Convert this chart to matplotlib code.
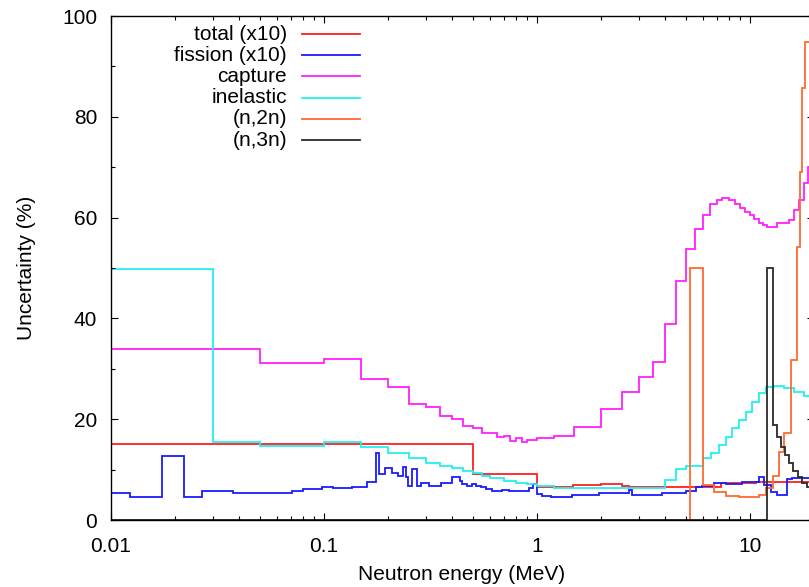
import matplotlib
matplotlib.use("Agg")
import matplotlib.pyplot as plt
from matplotlib.ticker import FixedLocator, MultipleLocator, FuncFormatter, NullFormatter
from matplotlib.lines import Line2D

plt.rcParams['font.family'] = ['Liberation Sans', 'DejaVu Sans']

# ---- group-wise relative uncertainties (%) vs neutron energy (MeV) ----
total_edges = [0.01, 0.5, 1.0, 1.47, 2.0, 2.5, 2.7, 7.3, 10.7, 20.0]
total_vals = [15.0, 9.2, 6.5, 6.9, 7.1, 6.7, 6.5, 7.3, 7.6]

fission_edges = [0.01, 0.0123, 0.0173, 0.022, 0.0267, 0.0373, 0.05, 0.0706, 0.0794,
                 0.0975, 0.11, 0.135, 0.159, 0.175, 0.182, 0.193, 0.208, 0.222, 0.236,
                 0.242, 0.247, 0.26, 0.272, 0.287, 0.313, 0.356, 0.401, 0.433, 0.447,
                 0.472, 0.498, 0.52, 0.549, 0.579, 0.618, 0.688, 0.742, 0.92, 0.96, 1.0,
                 1.06, 1.168, 1.466, 1.961, 2.712, 2.801, 3.872, 5.016, 5.588, 5.963,
                 6.788, 7.726, 9.184, 11.03, 11.65, 12.56, 13.4, 14.93, 15.76, 20.0]
fission_vals = [5.3, 4.6, 12.6, 4.6, 5.8, 5.3, 5.4, 5.8, 6.1, 6.5, 6.3, 6.6, 7.5, 13.3,
                9.2, 10.3, 9.3, 8.7, 10.5, 8.5, 6.7, 10.1, 6.7, 7.3, 6.7, 7.3, 8.5, 7.7,
                7.1, 6.7, 7.1, 6.7, 6.5, 6.2, 5.8, 6.0, 5.8, 6.3, 7.1, 5.2, 4.8, 4.6, 5.0,
                5.4, 6.0, 5.0, 5.4, 5.8, 6.5, 6.7, 7.3, 7.1, 7.5, 8.5, 6.9, 5.6, 5.0, 8.1,
                8.3]

capture_edges = [0.01, 0.05, 0.1, 0.15, 0.2, 0.25, 0.3, 0.35, 0.4, 0.45, 0.5, 0.55, 0.65,
                 0.7, 0.75, 0.8, 0.85, 0.9, 1.0, 1.2, 1.5, 2.0, 2.5, 3.0, 3.5, 4.0, 4.5,
                 5.0, 5.5, 6.0, 6.5, 7.0, 7.4, 8.0, 8.5, 9.0, 9.5, 10.0, 10.5, 11.0, 11.5,
                 12.0, 13.4, 15.25, 16.1, 17.0, 17.9, 18.7, 20.0]
capture_vals = [33.9, 31.2, 32.0, 28.0, 26.4, 23.0, 22.4, 20.6, 20.0, 18.7, 18.3, 17.3,
                16.5, 16.7, 15.7, 16.3, 15.5, 15.9, 16.3, 16.7, 18.5, 22.0, 25.4, 28.4,
                31.3, 38.9, 47.4, 53.8, 57.7, 60.5, 62.7, 63.4, 63.9, 63.5, 62.7, 61.9,
                61.2, 60.5, 59.7, 59.0, 58.5, 58.1, 59.0, 59.5, 61.5, 63.5, 66.9, 70.0]

inelastic_edges = [0.01, 0.03, 0.05, 0.1, 0.15, 0.2, 0.25, 0.3, 0.35, 0.4, 0.45, 0.5, 0.55,
                   0.6, 0.7, 0.8, 0.9, 1.0, 1.2, 4.0, 4.5, 5.0, 6.0, 6.6, 7.16, 7.73, 8.24,
                   8.89, 9.59, 10.23, 11.03, 11.89, 12.97, 14.45, 16.1, 17.9, 20.0]
inelastic_vals = [49.8, 15.5, 14.7, 15.5, 14.4, 13.3, 12.3, 11.3, 10.7, 10.3, 9.7, 9.3,
                  8.7, 8.3, 7.7, 7.3, 7.1, 6.7, 6.3, 7.9, 10.1, 10.8, 12.4, 13.3, 14.9,
                  16.5, 18.3, 19.8, 21.4, 23.4, 25.2, 26.4, 26.6, 26.2, 25.4, 24.6]

n2n_edges = [0.01, 5.24, 6.0, 6.8, 7.7, 8.9, 11.0, 11.9, 12.9, 13.7, 14.45, 15.6, 16.6,
             17.2, 17.5, 18.1, 20.0]
n2n_vals = [0.0, 50.0, 6.9, 5.6, 4.8, 4.5, 4.9, 6.3, 8.8, 13.5, 17.3, 31.7, 54.2, 69.0,
            85.7, 94.8]

n3n_edges = [0.01, 12.03, 12.83, 13.4, 14.0, 14.6, 15.3, 16.0, 16.8, 17.6, 18.5, 20.0]
n3n_vals = [0.0, 50.0, 18.8, 16.5, 14.5, 12.8, 11.3, 9.8, 8.5, 7.3, 6.5]

series = [
    ("total (x10)", total_edges, total_vals, "#ff2020"),
    ("fission (x10)", fission_edges, fission_vals, "#1a1aff"),
    ("capture", capture_edges, capture_vals, "#ff20ff"),
    ("inelastic", inelastic_edges, inelastic_vals, "#20f0f0"),
    ("(n,2n)", n2n_edges, n2n_vals, "#ff6a30"),
    ("(n,3n)", n3n_edges, n3n_vals, "#2a2a2a"),
]

W, H = 809, 587
fig = plt.figure(figsize=(W / 100, H / 100), dpi=100)
ax = fig.add_axes([111 / W, 67 / H, 703 / W, 504 / H])

for label, edges, vals, color in series:
    ax.stairs(vals, edges, baseline=None, color=color, lw=1.3, clip_on=False)

ax.set_xscale("log")
ax.set_xlim(0.01, 20)
ax.set_ylim(0, 100)

ax.xaxis.set_major_locator(FixedLocator([0.01, 0.1, 1, 10]))
minors = [m * 10.0 ** d for d in range(-2, 2) for m in range(2, 10)]
ax.xaxis.set_minor_locator(FixedLocator([v for v in minors if v <= 20]))
ax.xaxis.set_major_formatter(FuncFormatter(lambda v, p: f"{v:g}"))
ax.xaxis.set_minor_formatter(NullFormatter())
ax.yaxis.set_major_locator(MultipleLocator(20))
ax.yaxis.set_minor_locator(MultipleLocator(10))

ax.tick_params(which="both", direction="in", top=True, right=True, width=0.8,
               colors="black", labelsize=15)
ax.tick_params(which="major", length=5)
ax.tick_params(which="minor", length=3)
ax.tick_params(axis="y", pad=10)
ax.tick_params(axis="x", pad=12)
for sp in ax.spines.values():
    sp.set_linewidth(1.0)

fig.text(462 / W, 1 - 574 / H, "Neutron energy (MeV)", ha="center", va="center", fontsize=15)
fig.text(26 / W, 1 - 268 / H, "Uncertainty (%)", ha="center", va="center",
         rotation=90, fontsize=15)

# key: right-aligned labels followed by a short line sample
def ax_x(px):
    return (px - 111) / (814 - 111)
def ax_y(py):
    return (520 - py) / 504

for i, (label, edges, vals, color) in enumerate(series):
    yy = ax_y(34 + 21.2 * i)
    ax.text(ax_x(287), yy, label, ha="right", va="center", fontsize=15,
            transform=ax.transAxes)
    ax.add_line(Line2D([ax_x(302), ax_x(360)], [yy, yy], color=color, lw=1.3,
                       transform=ax.transAxes))

fig.savefig("out.png", dpi=100)
